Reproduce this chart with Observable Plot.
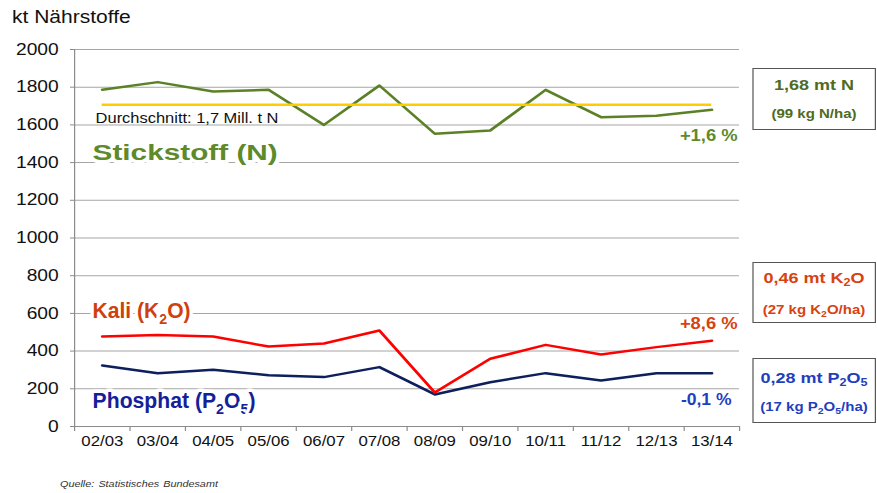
<!DOCTYPE html>
<html><head><meta charset="utf-8">
<script src="https://cdn.jsdelivr.net/npm/d3@7"></script>
<script src="https://cdn.jsdelivr.net/npm/@observablehq/plot@0.6"></script>
<style>
body{margin:0;background:#fff;}
#wrap{position:relative;width:730.83px;height:493px;transform:scale(1.2,1);transform-origin:0 0;font-family:"Liberation Sans",Arial,sans-serif;overflow:visible;}
#chart{position:absolute;left:0;top:0;}
#title{position:absolute;left:10px;top:7px;font-size:17.5px;color:#111;white-space:nowrap;}
#caption{position:absolute;left:50px;top:479px;font-size:9px;font-style:italic;color:#333;word-spacing:1px;white-space:nowrap;}
.box{position:absolute;left:626.7px;width:103.3px;box-sizing:border-box;border:1.5px solid #555;background:#fff;font-weight:bold;}
.box div{position:absolute;left:0;right:0;text-align:center;line-height:20px;height:20px;white-space:nowrap;}
.l1{font-size:15px;}
.l2{font-size:12.5px;}
.sb{font-size:70%;position:relative;top:0.3em;}
</style></head><body>
<div id="wrap">
  <div id="chart"></div>
  <div id="title">kt Nährstoffe</div>
  <div class="box" style="top:68px;height:62px;color:#4e6b1f;">
    <div class="l1" style="top:6px;">1,68 mt N</div>
    <div class="l2" style="top:35px;">(99 kg N/ha)</div>
  </div>
  <div class="box" style="top:262px;height:61px;color:#d8420f;">
    <div class="l1" style="top:5px;">0,46 mt K<span class="sb">2</span>O</div>
    <div class="l2" style="top:37px;">(27 kg K<span class="sb">2</span>O/ha)</div>
  </div>
  <div class="box" style="top:358px;height:65px;color:#1f3fbf;">
    <div class="l1" style="top:9px;">0,28 mt P<span class="sb">2</span>O<span class="sb">5</span></div>
    <div class="l2" style="top:38px;">(17 kg P<span class="sb">2</span>O<span class="sb">5</span>/ha)</div>
  </div>
  <div id="caption">Quelle: Statistisches Bundesamt</div>
</div>
<script>
const seasons = ["02/03","03/04","04/05","05/06","06/07","07/08","08/09","09/10","10/11","11/12","12/13","13/14"];
const nitrogen = [1786, 1827, 1777, 1786, 1600, 1809, 1553, 1570, 1786, 1641, 1648, 1680];
const potash = [477, 486, 477, 424, 440, 509, 180, 359, 433, 382, 421, 455];
const phosphate = [324, 283, 301, 272, 262, 315, 170, 235, 283, 244, 283, 283];
const avgN = 1707;
const yTicks = [0,200,400,600,800,1000,1200,1400,1600,1800,2000];

const SX = 1.2;
const font = '"Liberation Sans", Arial, sans-serif';
const idx = d3.range(seasons.length);
const bounds = d3.range(-0.5, seasons.length, 1);

// target rendered widths (px) of the annotation texts
const widths = {
  "Durchschnitt: 1,7 Mill. t N": 183,
  "Stickstoff (N)": 185,
  "Kali (K{2}O)": 98,
  "Phosphat (P{2}O{5})": 163,
  "+1,6 %": 58,
  "+8,6 %": 58,
  "-0,1 %": 51
};

const chart = Plot.plot({
  width: 877 / SX,
  height: 493,
  marginLeft: 74 / SX,
  marginRight: 138 / SX,
  marginTop: 49,
  marginBottom: 67,
  x: {domain: [-0.5, seasons.length - 0.5], axis: null},
  y: {domain: [0, 2000], axis: null},
  style: {fontFamily: font, background: "transparent", overflow: "visible"},
  marks: [
    Plot.gridY(yTicks, {stroke: "#a6a6a6", strokeOpacity: 1}),
    Plot.ruleX([-0.5], {stroke: "#8c8c8c"}),
    Plot.ruleY([0], {stroke: "#8c8c8c"}),
    Plot.axisY(yTicks, {tickSize: 4 / SX, tickFormat: () => "", color: "#8c8c8c"}),
    Plot.axisY(yTicks, {tickSize: 0, tickPadding: 13.3, fontSize: 16, color: "#111", tickFormat: d => String(d)}),
    Plot.axisX(bounds, {tickSize: 5, tickFormat: () => "", color: "#8c8c8c"}),
    Plot.axisX(idx, {tickSize: 0, tickPadding: 10, fontSize: 14, color: "#111", tickFormat: i => seasons[i]}),
    Plot.lineY(nitrogen, {stroke: "#5b8127", strokeWidth: 2.5}),
    Plot.ruleY([avgN], {x1: 0, x2: seasons.length - 1, stroke: "#ffcc00", strokeWidth: 2.5}),
    Plot.lineY(phosphate, {stroke: "#0d1f5c", strokeWidth: 2.5}),
    Plot.lineY(potash, {stroke: "#ff0000", strokeWidth: 2.5}),
    Plot.text(["Durchschnitt: 1,7 Mill. t N"], {x: -0.5, y: 1634, dx: 17.5, textAnchor: "start", fontSize: 14, fill: "#111"}),
    Plot.text(["Stickstoff (N)"], {x: -0.5, y: 1450, dx: 15, textAnchor: "start", fontSize: 22, fontWeight: "bold", fill: "#5e8a2a", stroke: "white", strokeWidth: 7}),
    Plot.text(["Kali (K{2}O)"], {x: -0.5, y: 614, dx: 15, textAnchor: "start", fontSize: 22, fontWeight: "bold", fill: "#d0400e", stroke: "white", strokeWidth: 7}),
    Plot.text(["Phosphat (P{2}O{5})"], {x: -0.5, y: 135, dx: 15, textAnchor: "start", fontSize: 22, fontWeight: "bold", fill: "#14209a", stroke: "white", strokeWidth: 7}),
    Plot.text(["+1,6 %"], {x: seasons.length - 0.5, y: 1544, dx: -2 / SX, textAnchor: "end", fontSize: 16, fontWeight: "bold", fill: "#5e8a2a"}),
    Plot.text(["+8,6 %"], {x: seasons.length - 0.5, y: 546, dx: -2 / SX, textAnchor: "end", fontSize: 16, fontWeight: "bold", fill: "#d8420f"}),
    Plot.text(["-0,1 %"], {x: seasons.length - 0.5, y: 143, dx: -8 / SX, textAnchor: "end", fontSize: 16, fontWeight: "bold", fill: "#1f3fbf"})
  ]
});

document.getElementById("chart").appendChild(chart);

// subscripts and horizontal fitting of annotation texts
d3.select(chart).selectAll("text").each(function() {
  const s = this.textContent;
  if (!(s in widths)) return;
  if (s.includes("{")) {
    const fs = parseFloat(getComputedStyle(this).fontSize) || 22;
    const sel = d3.select(this);
    sel.text("");
    let shift = 0; // current baseline offset
    s.split(/(\{[^}]*\})/).filter(p => p.length).forEach(p => {
      const sub = p.startsWith("{");
      const target = sub ? fs * 0.28 : 0;
      const ts = sel.append("tspan").text(sub ? p.slice(1, -1) : p);
      if (target !== shift) ts.attr("dy", target - shift);
      if (sub) ts.attr("font-size", fs * 0.68);
      shift = target;
    });
  }
  const bb = this.getBBox();
  if (!bb.width) return;
  const k = (widths[s] / SX) / bb.width;
  const anchor = getComputedStyle(this).textAnchor;
  const ax = anchor === "end" ? bb.x + bb.width : bb.x;
  const t = this.getAttribute("transform") || "";
  this.setAttribute("transform", `${t} translate(${ax},0) scale(${k},1) translate(${-ax},0)`);
});
</script>
</body></html>
